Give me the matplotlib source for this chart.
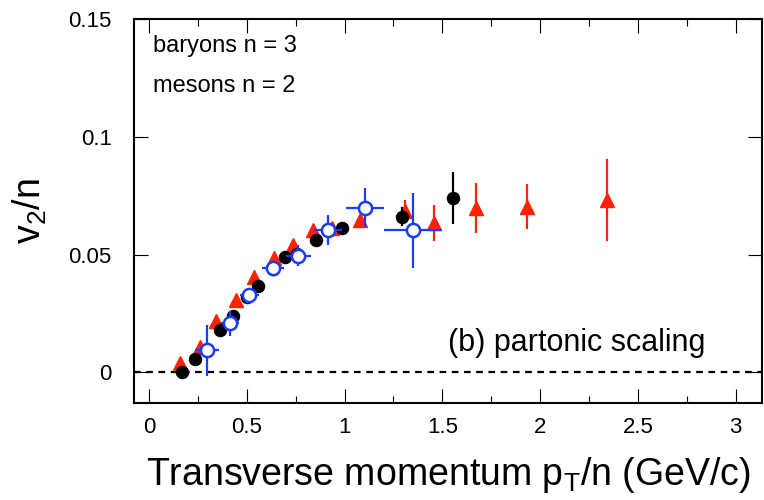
import numpy as np
import matplotlib
matplotlib.use("Agg")
import matplotlib.pyplot as plt
from matplotlib.ticker import MultipleLocator

plt.rcParams['font.family'] = ['Liberation Sans', 'DejaVu Sans']

# black filled circles
blk_x = [0.17, 0.235, 0.295, 0.363, 0.431, 0.503, 0.559, 0.633, 0.696, 0.759, 0.853, 0.989, 1.108, 1.292, 1.553]
blk_y = [0.0, 0.0058, 0.0093, 0.018, 0.024, 0.032, 0.0366, 0.0439, 0.0489, 0.0503, 0.0564, 0.0614, 0.0698, 0.066, 0.0739]
blk_e = [0.002, 0.001, 0.001, 0.001, 0.001, 0.001, 0.001, 0.001, 0.001, 0.001, 0.001, 0.001, 0.002, 0.004, 0.011]

# red triangles
red_x = [0.159, 0.261, 0.343, 0.445, 0.537, 0.639, 0.738, 0.841, 0.934, 1.079, 1.309, 1.458, 1.673, 1.932, 2.341]
red_y = [0.004, 0.0107, 0.0217, 0.0308, 0.0404, 0.0486, 0.054, 0.0604, 0.0611, 0.0647, 0.0686, 0.0634, 0.0698, 0.0703, 0.0732]
red_e = [0.001, 0.001, 0.001, 0.001, 0.001, 0.001, 0.001, 0.001, 0.001, 0.002, 0.0045, 0.0075, 0.0105, 0.0095, 0.0175]

# blue open circles
blu_x = [0.295, 0.414, 0.513, 0.633, 0.764, 0.917, 1.105, 1.349]
blu_y = [0.0093, 0.0209, 0.033, 0.0443, 0.0496, 0.0604, 0.0698, 0.0604]
blu_ex = [0.062, 0.047, 0.047, 0.055, 0.064, 0.072, 0.097, 0.149]
blu_ey = [0.011, 0.0053, 0.003, 0.003, 0.0046, 0.0064, 0.0083, 0.0159]

xticks = [0, 0.5, 1, 1.5, 2, 2.5, 3]
xticklabels = ['0', '0.5', '1', '1.5', '2', '2.5', '3']
yticks = [0, 0.05, 0.1, 0.15]
yticklabels = ['0', '0.05', '0.1', '0.15']

fig = plt.figure(figsize=(7.64, 5.0), dpi=100)
ax = fig.add_axes([0.1754, 0.194, 0.822, 0.768])

ax.axhline(0, color='black', ls=(0, (3, 2.5)), lw=1.6, zorder=1)

ax.errorbar(red_x, red_y, yerr=red_e, fmt='^', color='#ff2200', ms=10,
            elinewidth=1.6, capsize=0, mec='#ff2200', zorder=2)
ax.errorbar(blk_x, blk_y, yerr=blk_e, fmt='o', color='black', ms=8.7,
            elinewidth=1.6, capsize=0, zorder=3)
ax.errorbar(blu_x, blu_y, xerr=blu_ex, yerr=blu_ey, fmt='o', color='#1a3cff',
            mfc='white', mec='#1a3cff', mew=1.8, ms=9.5,
            elinewidth=1.6, capsize=0, zorder=4)

ax.set_xlim(-0.077, 3.135)
ax.set_ylim(-0.013, 0.15)
ax.set_xticks(xticks)
ax.set_xticklabels(xticklabels)
ax.xaxis.set_minor_locator(MultipleLocator(0.25))
ax.set_yticks(yticks)
ax.set_yticklabels(yticklabels)

ax.tick_params(which='major', direction='in', length=10, width=0.8,
               top=True, right=True, labelsize=16)
ax.tick_params(axis='x', which='major', pad=10)
ax.tick_params(axis='y', which='major', pad=16)
ax.tick_params(which='minor', direction='in', length=5, width=0.8,
               top=True, right=False)
ax.tick_params(axis='y', which='minor', left=False, right=False)
for s in ax.spines.values():
    s.set_linewidth(1.5)

ax.set_xlabel('Transverse momentum p$_\\mathregular{T}$/n (GeV/c)', fontsize=27, labelpad=12)
ax.set_ylabel('v$_\\mathregular{2}$/n', fontsize=27, labelpad=14)

ax.text(0.03, 0.93, 'baryons n = 3', transform=ax.transAxes, fontsize=17, va='center')
ax.text(0.03, 0.825, 'mesons n = 2', transform=ax.transAxes, fontsize=17, va='center')
ax.text(0.91, 0.155, '(b) partonic scaling', transform=ax.transAxes, fontsize=22,
        ha='right', va='center')

fig.savefig('out.png', dpi=100)
